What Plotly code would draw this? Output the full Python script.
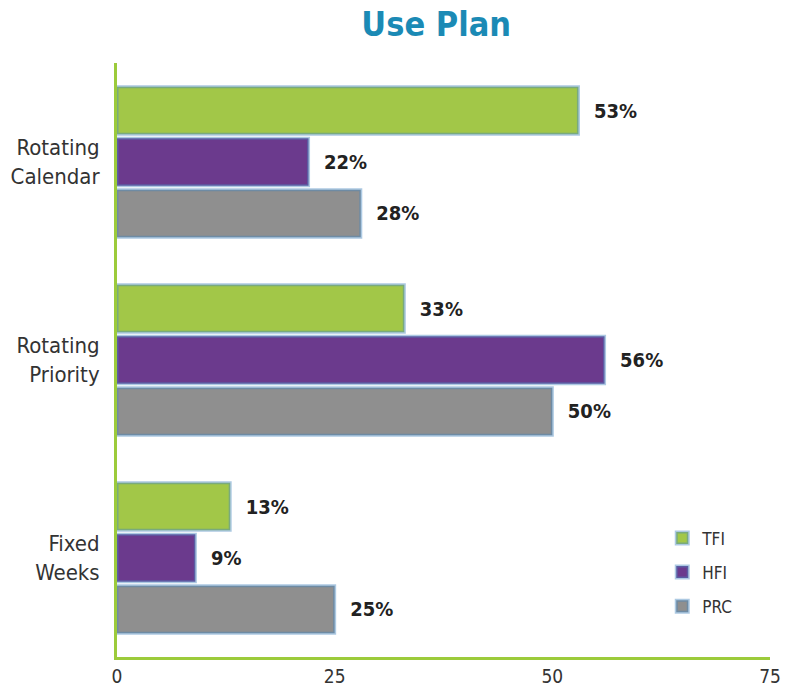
import plotly.graph_objects as go

categories = ["Rotating<br>Calendar", "Rotating<br>Priority", "Fixed<br>Weeks"]
series_names = ["TFI", "HFI", "PRC"]
tfi = [53, 33, 13]
hfi = [22, 56, 9]
prc = [28, 50, 25]
colors = ["#a2c748", "#6b3a8d", "#8f8f8f"]
x_ticks = [0, 25, 50, 75]

FONT = "'DejaVu Sans Condensed', 'Liberation Sans Narrow', 'Roboto Condensed', sans-serif"

fig = go.Figure()
for name, vals, col in zip(series_names, [tfi, hfi, prc], colors):
    fig.add_trace(go.Bar(
        y=categories, x=vals, name=name, orientation="h", legendgroup=name,
        marker=dict(color=col, line=dict(color="rgba(70,135,190,0.45)", width=3)),
        texttemplate="\u00a0\u00a0%{x}%", textposition="outside",
        textfont=dict(family=FONT, size=20, color="#222222", weight="bold"),
        cliponaxis=False,
    ))

fig.update_layout(
    width=796, height=688,
    margin=dict(l=117, r=26, t=63, b=31, autoexpand=False),
    paper_bgcolor="white", plot_bgcolor="white",
    barmode="group", bargap=0.22, bargroupgap=0.08,
    title=dict(text="<b>Use Plan</b>", x=0.548, xref="container", xanchor="center",
               y=0.965, yref="container", yanchor="middle",
               font=dict(family=FONT, size=34, color="#1b8ab5")),
    font=dict(family=FONT, color="#333333"),
    legend=dict(x=0.835, y=0.23, xanchor="left", yanchor="top", traceorder="grouped",
                font=dict(family=FONT, size=17, color="#333333"),
                itemwidth=30, tracegroupgap=9, bgcolor="rgba(0,0,0,0)"),
    showlegend=True,
)
fig.update_xaxes(range=[0, 75], tickvals=x_ticks, showgrid=False, zeroline=False,
                 showline=True, linecolor="#9ccb3b", linewidth=3, automargin=False,
                 tickfont=dict(family=FONT, size=19, color="#333333"),
                 ticks="", ticklabelstandoff=0)
fig.update_yaxes(autorange="reversed", showgrid=False, zeroline=False,
                 showline=True, linecolor="#9ccb3b", linewidth=3, automargin=False,
                 tickfont=dict(family=FONT, size=22, color="#333333"),
                 ticks="", ticklabelstandoff=10)

fig.write_html("out.html")
